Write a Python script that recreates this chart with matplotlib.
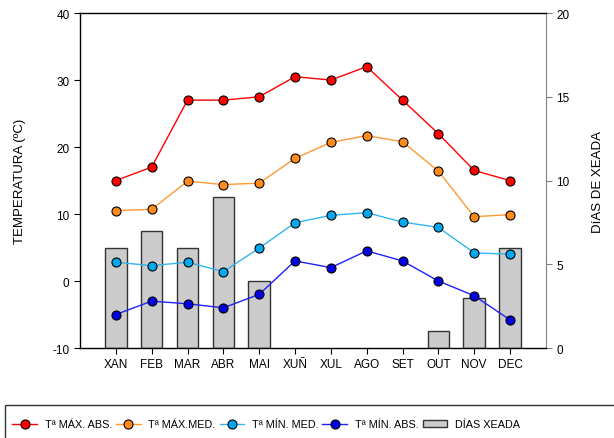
import matplotlib
matplotlib.use('Agg')
import matplotlib.pyplot as plt
from matplotlib.patches import Rectangle

plt.rcParams['font.family'] = ['Liberation Sans', 'DejaVu Sans']
plt.rcParams['axes.unicode_minus'] = False

months = ['XAN', 'FEB', 'MAR', 'ABR', 'MAI', 'XUÑ', 'XUL', 'AGO', 'SET', 'OUT', 'NOV', 'DEC']
max_abs = [15, 17, 27, 27, 27.5, 30.5, 30, 32, 27, 22, 16.5, 15]
max_med = [10.5, 10.7, 14.9, 14.4, 14.6, 18.3, 20.7, 21.7, 20.8, 16.4, 9.6, 9.9]
min_med = [2.8, 2.3, 2.8, 1.4, 4.9, 8.7, 9.8, 10.2, 8.8, 8.0, 4.2, 4.0]
min_abs = [-5, -3, -3.4, -4, -2, 3, 2, 4.5, 3, 0, -2.2, -5.8]
frost_days = [6, 7, 6, 9, 4, 0, 0, 0, 0, 1, 3, 6]

x = list(range(len(months)))

fig = plt.figure(figsize=(6.14, 4.39), dpi=100)
ax = fig.add_axes([0.1303, 0.205, 0.7587, 0.763])
ax2 = ax.twinx()
ax.set_zorder(2)
ax.patch.set_visible(False)

bars = ax2.bar(x, frost_days, width=0.6, color='#cccccc', edgecolor='#333333', linewidth=1.0,
               label='DÍAS XEADA')
# empty months show no outline in the original
for b, v in zip(bars, frost_days):
    if v == 0:
        b.set_visible(False)
ax2.set_ylim(0, 20)
ax2.set_yticks([0, 5, 10, 15, 20])
ax2.set_ylabel('DíAS DE XEADA', fontsize=9.5, labelpad=16)

series = [
    (max_abs, '#ff0000', '#ff0000', 'Tª MÁX. ABS.'),
    (max_med, '#ff9933', '#ff8c1a', 'Tª MÁX.MED.'),
    (min_med, '#33b5f0', '#00a8f0', 'Tª MÍN. MED.'),
    (min_abs, '#2020ff', '#0000e0', 'Tª MÍN. ABS.'),
]
lines = []
for vals, lc, fc, lab in series:
    ln, = ax.plot(x, vals, color=lc, lw=1.0, marker='o', markersize=6.5,
                  markerfacecolor=fc, markeredgecolor='black', markeredgewidth=0.8, label=lab)
    lines.append(ln)

ax.set_ylim(-10, 40)
ax.set_yticks([-10, 0, 10, 20, 30, 40])
ax.set_xlim(-1, 12)
ax.set_xticks(x)
ax.set_xticklabels(months)
ax.set_ylabel('TEMPERATURA (ºC)', fontsize=9.5, labelpad=19)

for a in (ax, ax2):
    a.tick_params(direction='out', length=4, labelsize=8.5, width=0.8)
ax2.spines['right'].set_color('#808080')
ax2.tick_params(axis='y', color='#808080')
for s in ('left', 'top', 'bottom'):
    ax.spines[s].set_linewidth(1.0)
    ax2.spines[s].set_visible(False)
ax.spines['right'].set_visible(False)

handles = lines + [bars.patches[0]]
labels = [l.get_label() for l in lines] + ['DÍAS XEADA']
fig.legend(handles, labels, loc='center left', bbox_to_anchor=(8 / 614, 0.031), ncol=5,
           frameon=False, fontsize=7.8, handlelength=2.3, handletextpad=0.7,
           columnspacing=0.35, borderaxespad=0)
fig.add_artist(Rectangle((5 / 614, -0.05), 1.0, 0.125, transform=fig.transFigure,
                         fill=False, edgecolor='#333333', linewidth=1.0))

fig.savefig('out.png', dpi=100)
